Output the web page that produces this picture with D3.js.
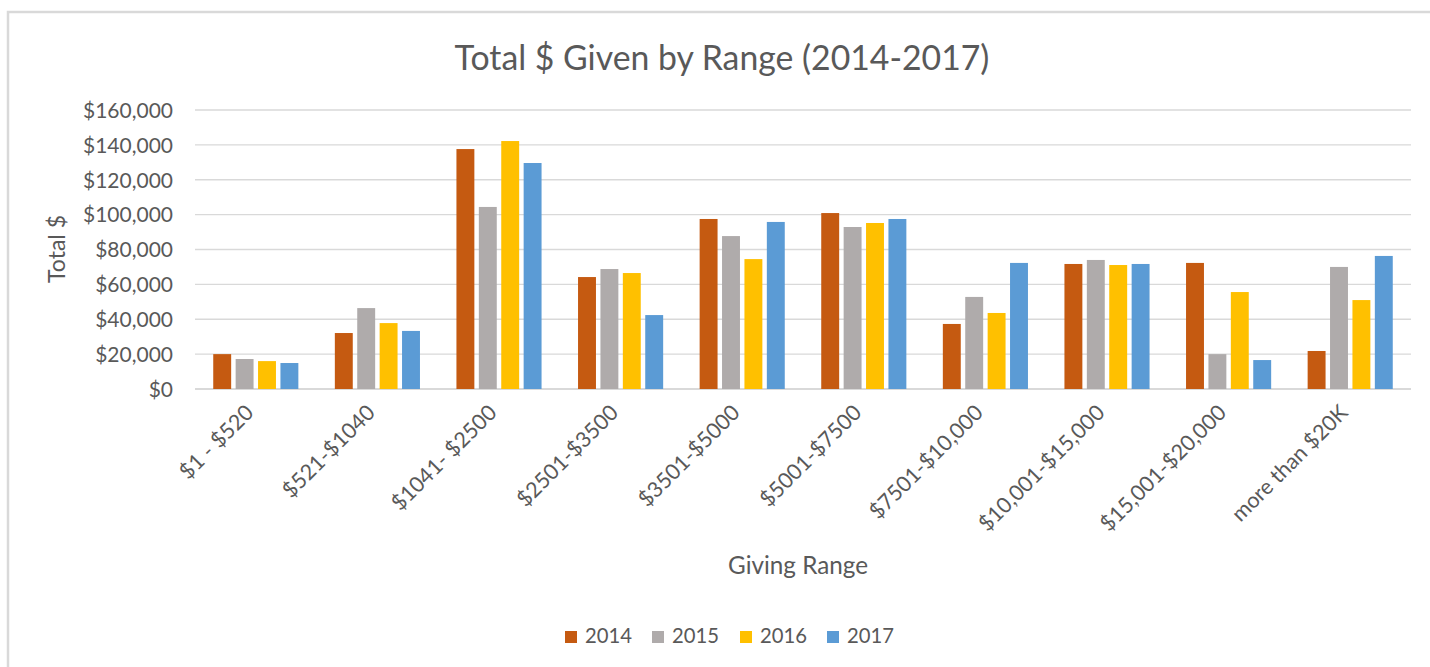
<!DOCTYPE html>
<html>
<head>
<meta charset="utf-8">
<script src="https://cdnjs.cloudflare.com/ajax/libs/d3/7.8.5/d3.min.js"></script>
<style>
  html, body { margin: 0; padding: 0; background: #fff; }
  svg text { font-family: "Lato", "Open Sans", sans-serif; fill: #595959; }
</style>
</head>
<body>
<svg id="chart" width="1430" height="667"></svg>
<script>
const categories = ["$1 - $520", "$521-$1040", "$1041- $2500", "$2501-$3500", "$3501-$5000",
  "$5001-$7500", "$7501-$10,000", "$10,001-$15,000", "$15,001-$20,000", "more than $20K"];
const seriesNames = ["2014", "2015", "2016", "2017"];
const values2014 = [20000, 32100, 137600, 64200, 97500, 100900, 37300, 71700, 72300, 21800];
const values2015 = [17200, 46400, 104400, 68800, 87700, 92900, 52800, 74000, 20000, 70000];
const values2016 = [16000, 37800, 142200, 66500, 74500, 95200, 43600, 71100, 55600, 51000];
const values2017 = [14900, 33300, 129600, 42400, 95800, 97500, 72300, 71700, 16600, 76300];
const colors = ["#C55A11", "#AFABAB", "#FFC000", "#5B9BD5"];
const yTicks = [0, 20000, 40000, 60000, 80000, 100000, 120000, 140000, 160000];
const titleText = "Total $ Given by Range (2014-2017)";
const yTitle = "Total $";
const xTitle = "Giving Range";

const allValues = [values2014, values2015, values2016, values2017];
const svg = d3.select("#chart");

// outer border
svg.append("rect").attr("x", 8).attr("y", 12).attr("width", 1440).attr("height", 700)
  .attr("fill", "none").attr("stroke", "#d9d9d9").attr("stroke-width", 2.5);

const plotL = 195, plotR = 1411, plotT = 110, plotB = 389;
const x0 = d3.scaleBand().domain(categories).range([plotL, plotR]).paddingInner(0.3).paddingOuter(0.15);
const x1 = d3.scaleBand().domain(seriesNames).range([0, x0.bandwidth()]).paddingInner(0.2);
const y = d3.scaleLinear().domain([0, 160000]).range([plotB, plotT]);

// gridlines
svg.append("g").selectAll("line").data(yTicks).join("line")
  .attr("x1", plotL).attr("x2", plotR)
  .attr("y1", d => y(d)).attr("y2", d => y(d))
  .attr("stroke", "#d9d9d9").attr("stroke-width", d => d === 0 ? 1.8 : 1.4);

// y axis labels
const yAxis = d3.axisLeft(y).tickValues(yTicks).tickSize(0).tickPadding(0)
  .tickFormat(d => "$" + d3.format(",")(d));
const yg = svg.append("g").attr("transform", `translate(173,0)`).call(yAxis);
yg.select(".domain").remove();
yg.selectAll("text").style("font-size", "18px").attr("dy", "0.35em").attr("fill", null);

// bars
const groups = svg.append("g").selectAll("g").data(categories).join("g")
  .attr("transform", d => `translate(${x0(d)},0)`);
groups.selectAll("rect").data((d, i) => seriesNames.map((s, j) => ({ s, v: allValues[j][i], j })))
  .join("rect")
  .attr("x", d => x1(d.s)).attr("width", x1.bandwidth())
  .attr("y", d => y(d.v)).attr("height", d => y(0) - y(d.v))
  .attr("fill", d => colors[d.j]);

// x labels
const xl = svg.append("g").selectAll("text").data(categories).join("text")
  .attr("transform", d => `translate(${x0(d) + x0.bandwidth() / 2 - 1},414) rotate(-45)`)
  .attr("text-anchor", "end")
  .style("font-size", "18px")
  .text(d => d);

// title
const title = svg.append("text").attr("x", 722).attr("y", 70).attr("text-anchor", "middle")
  .style("font-size", "28px").text(titleText);

// y title
const yt = svg.append("text").attr("transform", "translate(65,249) rotate(-90)")
  .attr("text-anchor", "middle").style("font-size", "20px").text(yTitle);

// x title
const xt = svg.append("text").attr("x", 798).attr("y", 574).attr("text-anchor", "middle")
  .style("font-size", "20px").text(xTitle);

// legend
const legendX = [565, 652, 740, 827];
const lg = svg.append("g").selectAll("g").data(seriesNames).join("g")
  .attr("transform", (d, i) => `translate(${legendX[i]},631)`);
lg.append("rect").attr("width", 12).attr("height", 12).attr("fill", (d, i) => colors[i]);
const lt = lg.append("text").attr("x", 20).attr("y", 12).style("font-size", "20px").text(d => d);

// fit font sizes to measured widths
function fit(sel, refNode, target, base) {
  const w = refNode.getComputedTextLength();
  const size = base * target / w;
  sel.style("font-size", size + "px");
}
fit(title, title.node(), 535, 28);
fit(yg.selectAll("text"), yg.selectAll("text").nodes()[8], 90, 18);
fit(xt, xt.node(), 140, 20);
fit(yt, yt.node(), 68, 20);
fit(lt, lt.node(), 47, 20);
fit(xl, xl.nodes()[0], 94, 18);
</script>
</body>
</html>
